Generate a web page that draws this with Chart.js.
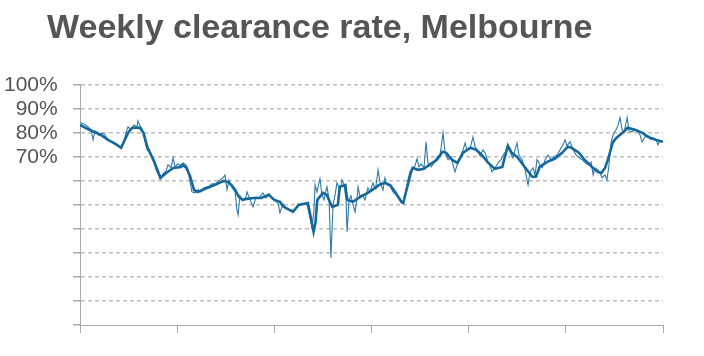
<!DOCTYPE html>
<html>
<head>
<meta charset="utf-8">
<script src="https://cdn.jsdelivr.net/npm/chart.js@4/dist/chart.umd.min.js"></script>
<style>
  html, body { margin: 0; padding: 0; background: #ffffff; }
  #wrap { width: 704px; height: 356px; position: relative; }
</style>
</head>
<body>
<div id="wrap"><canvas id="c" width="704" height="356"></canvas></div>
<script>
// Chart title
const chartTitle = "Weekly clearance rate, Melbourne";

// y-axis tick values (percent) and which ones carry labels
const yTicks = [0, 10, 20, 30, 40, 50, 60, 70, 80, 90, 100];
const yLabelled = [70, 80, 90, 100];

// x-axis: weeks, year boundaries every 52 weeks
const xTickWeeks = [0, 52, 104, 156, 208, 260, 312];

// Weekly clearance rate (thin line): week index and rate %
const weeklyWeeks = [
  0, 2.1, 4.3, 5.9, 7.0, 8.0, 9.1, 10.2, 11.8, 13.4, 14.5, 16.1, 18.2, 20.3, 21.9, 23.5, 24.6, 25.7, 27.3, 28.9,
  30.5, 31.0, 32.1, 33.2, 34.3, 35.9, 37.5, 39.1, 40.7, 42.3, 43.4, 44.4, 46.0, 47.1, 48.7, 49.8, 50.8, 52.4, 53.5,
  55.1, 56.7, 57.8, 58.9, 59.9, 61.5, 63.2, 64.8, 66.4, 68.5, 70.6, 72.8, 74.9, 76.5, 77.6, 78.7, 79.7, 81.4, 83.0,
  84.0, 84.6, 85.6, 87.2, 88.8, 89.4, 91.0, 92.6, 94.2, 95.8, 97.9, 99.5, 101.2, 102.8, 104.4, 106.0,
  107.0, 108.6, 110.3, 111.9, 113.5, 114.5, 115.6, 116.7, 118.3, 119.9, 121.5, 123.1, 124.2, 125.2, 125.8, 126.8,
  128.4, 129.5, 130.6, 131.7, 132.2, 133.3, 134.3, 135.4, 136.5, 137.5, 139.2, 140.2, 141.3, 142.4, 142.9, 144.0,
  145.0, 146.1, 147.2, 148.3, 148.8, 149.9, 150.9, 152.5, 154.1, 155.2, 156.8, 157.9,
  158.4, 159.5, 160.6, 162.2, 163.2, 164.3, 165.9, 167.5, 169.1, 170.7, 172.3, 173.4, 174.5, 175.5, 176.6, 177.7,
  179.3, 180.4, 181.4, 182.5, 184.1, 185.2, 186.2, 187.9, 189.5, 191.1, 192.7, 194.3, 195.3, 197.0, 198.6, 199.6,
  200.7, 202.3, 203.9, 205.0, 206.1, 207.1, 208.7,
  210.3, 211.4, 213.0, 214.1, 215.7, 216.8, 218.4, 219.4, 220.5, 222.1, 223.7, 225.3, 226.9, 228.5, 229.1, 230.1,
  231.7, 232.8, 233.9, 234.9, 236.6, 238.2, 239.8, 240.8, 242.5, 243.5, 244.6, 246.2, 247.3, 248.9, 250.5, 252.1,
  253.7, 255.3, 256.9, 258.5, 259.6, 260.6,
  262.2, 263.9, 265.5, 267.1, 268.7, 270.3, 271.9, 273.5, 274.6, 275.6, 277.2, 278.3, 279.4, 281.0, 282.0, 283.1,
  284.2, 285.3, 286.9, 288.0, 289.0, 290.1, 291.2, 292.8, 293.8, 295.4, 297.0, 298.6, 299.7, 300.8, 302.4, 304.0,
  305.6, 307.2, 308.3, 309.3, 310.4, 311.5
];
const weeklyRates = [
  84.2, 83.8, 82.5, 81.3, 77.1, 80.8, 80.4, 78.8, 80.0, 79.2, 77.5, 76.7, 75.4, 74.6, 73.8, 76.3, 80.0, 82.5, 81.3, 83.3,
  82.5, 85.0, 82.9, 81.7, 77.9, 72.9, 71.7, 68.8, 64.6, 62.1, 60.8, 62.9, 64.2, 66.7, 65.4, 69.6, 65.8, 67.1, 66.3,
  67.5, 66.7, 64.6, 59.6, 55.4, 55.0, 56.3, 55.4, 57.1, 57.5, 58.8, 58.8, 60.4, 61.3, 62.5, 56.3, 60.4, 57.1, 55.4,
  47.9, 45.8, 53.8, 51.7, 53.3, 55.4, 52.1, 49.2, 53.3, 52.9, 55.0, 52.9, 54.6, 52.5, 51.7, 50.8,
  46.7, 50.4, 48.8, 47.9, 47.9, 47.5, 48.3, 50.4, 50.0, 50.4, 50.0, 44.6, 40.4, 47.9, 58.3, 55.4,
  60.8, 54.2, 52.1, 56.3, 57.5, 52.1, 27.9, 50.0, 54.2, 59.2, 56.3, 60.4, 58.3, 52.1, 38.8, 52.1,
  53.8, 50.0, 47.1, 52.9, 57.5, 53.3, 54.2, 52.1, 57.1, 55.4, 59.2, 56.7,
  57.9, 64.6, 59.2, 56.3, 61.3, 58.3, 57.9, 55.4, 54.2, 52.5, 50.8, 52.1, 56.3, 60.4, 63.8, 65.0,
  66.3, 69.2, 65.8, 67.1, 65.4, 76.3, 67.5, 65.8, 67.5, 70.0, 70.8, 80.0, 72.1, 68.8, 70.0, 66.7,
  63.8, 67.9, 70.8, 72.9, 75.8, 72.9, 73.3,
  78.3, 74.2, 72.5, 70.4, 72.9, 71.7, 67.5, 66.3, 63.8, 65.4, 67.5, 68.8, 71.3, 72.9, 74.6, 72.1,
  69.6, 72.9, 75.8, 70.8, 68.8, 64.6, 58.3, 63.8, 65.4, 62.5, 68.8, 66.7, 65.4, 68.8, 70.8, 68.8,
  70.0, 70.8, 72.9, 75.0, 77.1, 74.6,
  76.3, 72.9, 70.8, 69.6, 68.8, 67.5, 66.7, 67.9, 62.5, 65.4, 64.6, 63.3, 61.3, 62.5, 60.4, 66.7,
  75.8, 79.2, 81.3, 83.3, 86.3, 81.3, 80.4, 86.3, 80.8, 80.4, 81.3, 80.8, 79.2, 76.3, 78.3, 78.8,
  77.1, 77.9, 77.1, 75.0, 76.7, 76.3
];

// Smoothed trend (thick line): week index and rate %
const trendWeeks = [
  0, 5, 11, 15, 19, 22, 24, 26, 28, 32, 34, 36, 40, 43, 47, 50, 54, 55, 57, 59, 61, 63, 67, 72, 77, 79, 81, 83,
  85, 87, 89, 93, 97, 101, 104, 107, 109, 114, 117, 122, 123, 125, 126, 127, 130, 132, 134, 135, 138, 139, 142,
  143, 146, 150, 154, 158, 160, 163, 166, 169, 172, 173, 177, 178, 181, 184, 187, 191, 194, 196, 199, 202, 205,
  209, 212, 215, 218, 222, 226, 228, 229, 231, 234, 238, 242, 244, 246, 250, 254, 258, 261, 263, 267, 270, 275,
  277, 279, 281, 283, 285, 287, 291, 293, 297, 301, 304, 308, 312
];
const trendRates = [
  83.3, 81.3, 79.2, 77.1, 75.4, 73.8, 77.1, 80.4, 82.1, 82.1, 80.0, 74.2, 67.5, 61.3, 63.8, 65.4, 65.8, 66.7, 65.4,
  61.7, 56.3, 55.4, 56.7, 58.3, 60.0, 59.6, 58.3, 56.3,
  53.3, 52.1, 52.5, 52.9, 52.9, 54.2, 52.1, 51.3, 49.2, 47.1, 50.0, 50.8, 46.7, 38.8, 42.5, 52.1, 55.0, 54.2,
  50.8, 49.2, 50.0, 57.5, 58.3,
  52.1, 51.3, 53.3, 55.0, 57.1, 58.3, 59.2, 58.3, 55.0, 51.3, 50.8, 63.3, 65.4, 64.6, 65.0, 66.7, 68.8, 72.1,
  71.7, 68.8, 67.5, 71.7,
  73.8, 72.9, 70.8, 67.9, 65.0, 65.8, 71.7, 74.6, 71.7, 70.0, 65.8, 61.7, 61.7, 65.8, 67.9, 69.2, 71.7, 74.2,
  73.8, 71.7, 68.8, 65.0,
  63.8, 63.3, 65.4, 70.0, 75.8, 77.9, 80.4, 82.1, 81.3, 80.0, 78.3, 77.1, 76.3
];

const weeklyData = weeklyWeeks.map((w, i) => ({ x: w, y: weeklyRates[i] }));
const trendData = trendWeeks.map((w, i) => ({ x: w, y: trendRates[i] }));

const labelFont = { family: '"Liberation Sans", Arial, Helvetica, sans-serif', size: 21 };

new Chart(document.getElementById('c'), {
  type: 'line',
  data: {
    datasets: [
      {
        label: 'Trend',
        data: trendData,
        borderColor: '#17689a',
        borderWidth: 2.6,
        pointRadius: 0,
        tension: 0,
        fill: false
      },
      {
        label: 'Weekly',
        data: weeklyData,
        borderColor: '#2e7aa9',
        borderWidth: 1.1,
        pointRadius: 0,
        tension: 0,
        fill: false
      }
    ]
  },
  options: {
    responsive: false,
    animation: false,
    layout: { padding: { left: 47, right: 41, top: 0, bottom: 0 } },
    plugins: {
      legend: { display: false },
      tooltip: { enabled: false },
      title: {
        display: true,
        text: chartTitle,
        align: 'start',
        color: '#555555',
        font: { family: '"Liberation Sans", Arial, Helvetica, sans-serif', size: 34, weight: 'bold' },
        padding: { top: 8, bottom: 36 }
      }
    },
    scales: {
      x: {
        type: 'linear',
        min: xTickWeeks[0],
        max: xTickWeeks[xTickWeeks.length - 1],
        afterBuildTicks: (scale) => { scale.ticks = xTickWeeks.map(v => ({ value: v })); },
        ticks: { display: false, autoSkip: false },
        grid: {
          drawOnChartArea: false,
          drawTicks: true,
          tickLength: 8,
          tickColor: '#a8a8a8',
          color: '#a8a8a8'
        },
        border: { display: true, color: '#a8a8a8', width: 1 },
        afterFit: (scale) => { scale.height = 31; }
      },
      y: {
        type: 'linear',
        min: yTicks[0],
        max: yTicks[yTicks.length - 1],
        afterBuildTicks: (scale) => { scale.ticks = yTicks.map(v => ({ value: v })); },
        ticks: {
          autoSkip: false,
          mirror: true,
          crossAlign: 'far',
          padding: -76,
          color: '#555555',
          font: labelFont,
          callback: (v) => yLabelled.includes(v) ? v + '%' : ''
        },
        grid: {
          drawTicks: true,
          tickLength: 7,
          tickColor: '#a8a8a8',
          tickBorderDash: [],
          lineWidth: 1.5,
          color: (ctx) => (ctx.tick && ctx.tick.value === 0) ? 'rgba(0,0,0,0)' : '#bdbdbd'
        },
        border: { display: true, color: '#a8a8a8', width: 1, dash: [4, 3] },
        afterFit: (scale) => { scale.width = 33; }
      }
    }
  }
});
</script>
</body>
</html>
